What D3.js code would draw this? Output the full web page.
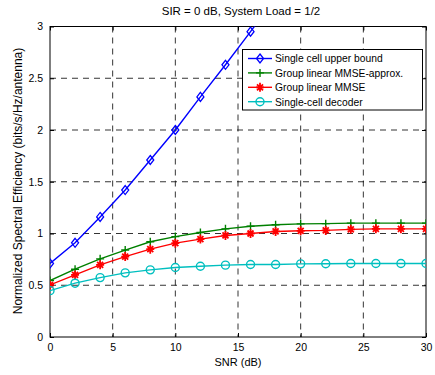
<!DOCTYPE html>
<html><head><meta charset="utf-8">
<script src="https://cdn.jsdelivr.net/npm/d3@7"></script>
<style>body{margin:0;background:#fff}svg{display:block}text{font-family:"Liberation Sans",Arial,sans-serif;fill:#000}</style>
</head><body>
<script>
const snr = [0,2,4,6,8,10,12,14,16,18,20,22,24,26,28,30];
const upperBound = [0.71,0.91,1.16,1.42,1.71,2.0,2.32,2.63,2.95,3.28];
const mmseApprox = [0.545,0.655,0.755,0.84,0.92,0.97,1.01,1.045,1.07,1.085,1.093,1.095,1.1,1.1,1.1,1.1];
const mmse = [0.503,0.6,0.697,0.777,0.849,0.907,0.946,0.981,1.0,1.02,1.026,1.03,1.04,1.045,1.045,1.045];
const singleCell = [0.448,0.52,0.574,0.62,0.649,0.671,0.684,0.694,0.70,0.70,0.707,0.708,0.71,0.71,0.71,0.71];
const seriesNames = ["Single cell upper bound","Group linear MMSE-approx.","Group linear MMSE","Single-cell decoder"];
const xTicks = [0,5,10,15,20,25,30];
const yTicks = [0,0.5,1,1.5,2,2.5,3];
const title = "SIR = 0 dB, System Load = 1/2";
const xLabel = "SNR (dB)";
const yLabel = "Normalized Spectral Efficiency (bits/s/Hz/antenna)";

const W=435,H=375, L=50,R=426,T=26.5,B=337;
const svg=d3.select("body").append("svg").attr("width",W).attr("height",H);
const x=d3.scaleLinear().domain([0,30]).range([L,R]);
const y=d3.scaleLinear().domain([0,3]).range([B,T]);

// grid
const g=svg.append("g");
xTicks.slice(1,-1).forEach(t=>g.append("line").attr("x1",x(t)).attr("x2",x(t)).attr("y1",T).attr("y2",B)
  .attr("stroke","#000").attr("stroke-width",0.8).attr("stroke-dasharray","6,5"));
yTicks.slice(1,-1).forEach(t=>g.append("line").attr("y1",y(t)).attr("y2",y(t)).attr("x1",L).attr("x2",R)
  .attr("stroke","#000").attr("stroke-width",0.8).attr("stroke-dasharray","6,5"));

// axes
const xa=svg.append("g").attr("transform",`translate(0,${B})`).call(d3.axisBottom(x).tickValues(xTicks).tickSizeInner(-4).tickSizeOuter(0).tickPadding(7));
const xa2=svg.append("g").attr("transform",`translate(0,${T})`).call(d3.axisTop(x).tickValues(xTicks).tickSizeInner(-4).tickSizeOuter(0).tickFormat(""));
const ya=svg.append("g").attr("transform",`translate(${L},0)`).call(d3.axisLeft(y).tickValues(yTicks).tickSizeInner(-4).tickSizeOuter(0).tickPadding(7).tickFormat(d3.format("")));
const ya2=svg.append("g").attr("transform",`translate(${R},0)`).call(d3.axisRight(y).tickValues(yTicks).tickSizeInner(-4).tickSizeOuter(0).tickFormat(""));
[xa,xa2,ya,ya2].forEach(a=>{a.select(".domain").remove();a.selectAll("line").attr("stroke","#000");a.selectAll("text").style("font-size","10.5px").attr("font-family","Liberation Sans, Arial, sans-serif");});
svg.append("rect").attr("x",L).attr("y",T).attr("width",R-L).attr("height",B-T).attr("fill","none").attr("stroke","#000").attr("stroke-width",1);

svg.append("text").attr("x",241).attr("y",15).attr("text-anchor","middle").style("font-size","11.5px").text(title);
svg.append("text").attr("x",238).attr("y",366).attr("text-anchor","middle").style("font-size","11px").text(xLabel);
svg.append("text").attr("transform",`translate(22,181) rotate(-90)`).attr("text-anchor","middle").style("font-size","12px").text(yLabel);

svg.append("clipPath").attr("id","clip").append("rect").attr("x",L).attr("y",T).attr("width",R-L).attr("height",B-T);

const colors=["#0000ff","#008000","#ff0000","#00bfbf"];
const datas=[upperBound,mmseApprox,mmse,singleCell];
function marker(sel,i,cx,cy){
  const c=colors[i];
  if(i===0){sel.append("path").attr("d",`M${cx},${cy-4.5}L${cx+3.5},${cy}L${cx},${cy+4.5}L${cx-3.5},${cy}Z`).attr("fill","none").attr("stroke",c).attr("stroke-width",1.3);}
  else if(i===1){sel.append("path").attr("d",`M${cx-4},${cy}H${cx+4}M${cx},${cy-4}V${cy+4}`).attr("stroke",c).attr("stroke-width",1.4);}
  else if(i===2){sel.append("path").attr("d",`M${cx-4},${cy}H${cx+4}M${cx},${cy-4.5}V${cy+4.5}M${cx-3},${cy-3}L${cx+3},${cy+3}M${cx-3},${cy+3}L${cx+3},${cy-3}`).attr("stroke",c).attr("stroke-width",1.8);
    sel.append("circle").attr("cx",cx).attr("cy",cy).attr("r",2.2).attr("fill",c);}
  else {sel.append("circle").attr("cx",cx).attr("cy",cy).attr("r",4).attr("fill","none").attr("stroke",c).attr("stroke-width",1.4);}
}
const plot=svg.append("g").attr("clip-path","url(#clip)");
datas.forEach((d,i)=>{
  const pts=d.map((v,j)=>[snr[j],v]);
  plot.append("path").datum(pts).attr("d",d3.line().x(p=>x(p[0])).y(p=>y(p[1]))).attr("fill","none").attr("stroke",colors[i]).attr("stroke-width",1.4);
});
datas.forEach((d,i)=>{
  const mg=plot.append("g");
  d.forEach((v,j)=>{ if(v<=3) marker(mg,i,x(snr[j]),y(v)); });
});

// legend
const lg=svg.append("g");
lg.append("rect").attr("x",242.5).attr("y",49.5).attr("width",180).attr("height",60.5).attr("fill","#fff").attr("stroke","#000").attr("stroke-width",1);
seriesNames.forEach((n,i)=>{
  const yy=58.5+i*14.4;
  lg.append("line").attr("x1",248).attr("x2",272).attr("y1",yy).attr("y2",yy).attr("stroke",colors[i]).attr("stroke-width",1.4);
  marker(lg,i,260,yy);
  lg.append("text").attr("x",275).attr("y",yy+3.8).style("font-size","10.3px").text(n);
});
</script>
</body></html>
